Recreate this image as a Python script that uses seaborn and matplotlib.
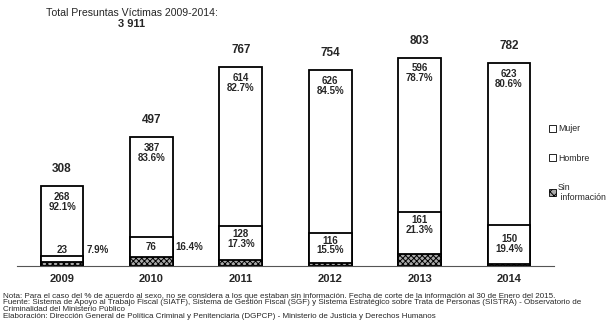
import matplotlib
matplotlib.use("Agg")
import matplotlib.pyplot as plt
import matplotlib.patches as mpatches
import seaborn as sns
import pandas as pd

years = ["2009", "2010", "2011", "2012", "2013", "2014"]
mujer = [268, 387, 614, 626, 596, 623]
hombre = [23, 76, 128, 116, 161, 150]
sin_info = [17, 34, 25, 12, 46, 9]
mujer_pct = ["92.1%", "83.6%", "82.7%", "84.5%", "78.7%", "80.6%"]
hombre_pct = ["7.9%", "16.4%", "17.3%", "15.5%", "21.3%", "19.4%"]
totals = [m + h + s for m, h, s in zip(mujer, hombre, sin_info)]
legend_labels = ["Mujer", "Hombre", "Sin\n información"]
title_text = "Total Presuntas Víctimas 2009-2014:"
total_text = "3 911"
notes = [
    "Nota: Para el caso del % de acuerdo al sexo, no se considera a los que estaban sin información. Fecha de corte de la información al 30 de Enero del 2015.",
    "Fuente: Sistema de Apoyo al Trabajo Fiscal (SIATF), Sistema de Gestión Fiscal (SGF) y Sistema Estratégico sobre Trata de Personas (SISTRA) - Observatorio de",
    "Criminalidad del Ministerio Público",
    "Elaboración: Dirección General de Política Criminal y Penitenciaria (DGPCP) - Ministerio de Justicia y Derechos Humanos",
]

sns.set_style("white")
plt.rcParams["font.family"] = ["Liberation Sans", "DejaVu Sans"]
plt.rcParams["hatch.linewidth"] = 0.7

df = pd.DataFrame({
    "year": years,
    "total": totals,
    "lower2": [h + s for h, s in zip(hombre, sin_info)],
    "lower1": sin_info,
})

W, H = 610, 336
fig = plt.figure(figsize=(W / 100, H / 100), dpi=100)
ax_left, ax_right = 17.3, 553.7
ax_bottom, ax_top = 266, 6.5
ax = fig.add_axes([ax_left / W, 1 - ax_bottom / H, (ax_right - ax_left) / W, (ax_bottom - ax_top) / H])

bw = 0.48
common = dict(ax=ax, order=years, width=bw, saturation=1, edgecolor="black", linewidth=1.3, errorbar=None)
sns.barplot(data=df, x="year", y="total", color="white", **common)
sns.barplot(data=df, x="year", y="lower2", color="white", **common)
sns.barplot(data=df, x="year", y="lower1", color="#aaaaaa", hatch="xxxxxx", **common)

ax.set_ylim(0, 1000)
ax.set_xlim(-0.5, 5.5)
ax.set_xlabel("")
ax.set_ylabel("")
ax.set_yticks([])
for s in ["top", "right", "left"]:
    ax.spines[s].set_visible(False)
ax.spines["bottom"].set_color("#555555")
ax.spines["bottom"].set_linewidth(0.8)
ax.tick_params(axis="x", which="major", length=0, labelsize=8, pad=6)
for lbl in ax.get_xticklabels():
    lbl.set_fontweight("bold")
ax.set_xticks([i + 0.5 for i in range(-1, 6)], minor=True)
ax.tick_params(axis="x", which="minor", length=3, direction="inout", color="#555555")

hombre_va = ["bottom", "center", "top", "top", "top", "center"]
for i in range(len(years)):
    ax.annotate(str(totals[i]), (i, totals[i]), xytext=(0, 8), textcoords="offset points",
                ha="center", va="bottom", fontsize=8.5, fontweight="bold")
    ax.annotate(f"{mujer[i]}\n{mujer_pct[i]}", (i, totals[i]), xytext=(0, -4), textcoords="offset points",
                ha="center", va="top", fontsize=7, fontweight="bold", linespacing=1.0)
    low = hombre[i] + sin_info[i]
    if i < 2:
        yref = low if i == 0 else sin_info[i] + hombre[i] / 2
        dy = 0.5 if i == 0 else 0
        ax.annotate(str(hombre[i]), (i, yref), xytext=(0, dy), textcoords="offset points",
                    ha="center", va=hombre_va[i], fontsize=7, fontweight="bold")
        ax.annotate(hombre_pct[i], (i + bw / 2, yref), xytext=(2, dy), textcoords="offset points",
                    ha="left", va=hombre_va[i], fontsize=7, fontweight="bold")
    else:
        if hombre_va[i] == "center":
            yref, dy = sin_info[i] + hombre[i] / 2, 0
        else:
            yref, dy = low, -2
        ax.annotate(f"{hombre[i]}\n{hombre_pct[i]}", (i, yref), xytext=(0, dy), textcoords="offset points",
                    ha="center", va=hombre_va[i], fontsize=7, fontweight="bold", linespacing=0.95)

handles = [
    mpatches.Patch(facecolor="white", edgecolor="black", linewidth=0.6),
    mpatches.Patch(facecolor="white", edgecolor="black", linewidth=0.6),
    mpatches.Patch(facecolor="#aaaaaa", edgecolor="black", linewidth=0.6, hatch="xxxx"),
]
fig.legend(handles, legend_labels, loc="upper left", bbox_to_anchor=(545 / W, 1 - 120 / H),
           frameon=False, fontsize=6.3, handlelength=0.8, handleheight=0.8,
           handletextpad=0.2, labelspacing=2.3, borderpad=0)

fig.text(132 / W, 1 - 13 / H, title_text, ha="center", va="center", fontsize=7.6)
fig.text(132 / W, 1 - 24 / H, total_text, ha="center", va="center", fontsize=8, fontweight="bold")

note_y = [296.5, 303, 309.5, 316]
for t, y in zip(notes, note_y):
    fig.text(3 / W, 1 - y / H, t, ha="left", va="center", fontsize=5.8)

fig.savefig("out.png", dpi=100)
